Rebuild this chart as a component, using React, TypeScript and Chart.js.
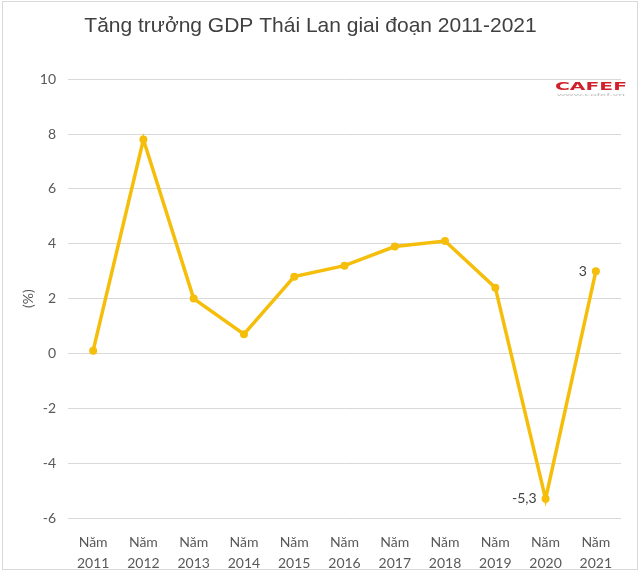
import React, { useEffect, useRef } from "react";
import { Chart, registerables } from "chart.js";

Chart.register(...registerables);

const categories: string[][] = [
  ["Năm", "2011"], ["Năm", "2012"], ["Năm", "2013"], ["Năm", "2014"], ["Năm", "2015"],
  ["Năm", "2016"], ["Năm", "2017"], ["Năm", "2018"], ["Năm", "2019"], ["Năm", "2020"], ["Năm", "2021"],
];
const gdpGrowth: number[] = [0.1, 7.8, 2.0, 0.7, 2.8, 3.2, 3.9, 4.1, 2.4, -5.3, 3.0];
const pointLabels: (string | null)[] = [null, null, null, null, null, null, null, null, null, "-5,3", "3"];
const titleText = "Tăng trưởng GDP Thái Lan giai đoạn 2011-2021";
const axisTitle = "(%)";

const LINE = "#F5BE0B";

const decorPlugin = {
  id: "decor",
  beforeDraw(chart: any) {
    const ctx = chart.ctx;
    ctx.save();
    ctx.strokeStyle = "#d9d9d9";
    ctx.lineWidth = 1;
    ctx.strokeRect(2.5, 1.5, 635, 568);
    ctx.restore();
  },
  afterDatasetsDraw(chart: any) {
    const ctx = chart.ctx;
    const meta = chart.getDatasetMeta(0);
    ctx.save();
    ctx.font = "14px Lato";
    ctx.fillStyle = "#404040";
    ctx.textAlign = "right";
    ctx.textBaseline = "middle";
    meta.data.forEach((pt: any, i: number) => {
      const lbl = pointLabels[i];
      if (lbl) ctx.fillText(lbl, pt.x - 9, pt.y);
    });
    // logo
    ctx.textAlign = "left";
    ctx.textBaseline = "alphabetic";
    ctx.font = "900 11px 'DejaVu Sans'";
    const w = ctx.measureText("CAFEF").width;
    ctx.save();
    ctx.translate(555, 90);
    ctx.scale(72 / w, 1);
    ctx.fillStyle = "#d0202a";
    ctx.fillText("CAFEF", 0, 0);
    ctx.restore();
    ctx.font = "4px 'Liberation Sans'";
    const w2 = ctx.measureText("www.cafef.vn").width;
    ctx.save();
    ctx.translate(557, 96);
    ctx.scale(68 / w2, 1);
    ctx.fillStyle = "#bbbbbb";
    ctx.fillText("www.cafef.vn", 0, 0);
    ctx.restore();
    ctx.restore();
  },
};

export default function App() {
  const ref = useRef<HTMLCanvasElement | null>(null);
  useEffect(() => {
    document.body.style.margin = "0";
    const chart = new Chart(ref.current as HTMLCanvasElement, {
      type: "line",
      data: {
        labels: categories,
        datasets: [
          {
            data: gdpGrowth,
            borderColor: LINE,
            backgroundColor: LINE,
            borderWidth: 3.5,
            pointRadius: 4,
            pointBackgroundColor: LINE,
            pointBorderWidth: 0,
            tension: 0,
          },
        ],
      },
      options: {
        responsive: false,
        animation: false,
        layout: { padding: { left: 0, right: 19, top: 0, bottom: 0 } },
        plugins: {
          legend: { display: false },
          tooltip: { enabled: false },
          title: {
            display: true,
            text: titleText,
            color: "#404040",
            font: { family: "'Liberation Sans'", size: 21, weight: "normal" },
            padding: { top: 14, bottom: 40 },
          },
        },
        scales: {
          x: {
            offset: true,
            grid: { display: false },
            border: { display: false },
            ticks: {
              color: "#595959",
              font: { family: "Lato", size: 14, lineHeight: 1.5 },
              padding: 6,
              maxRotation: 0,
              autoSkip: false,
            },
            afterFit(scale: any) {
              scale.height = 54;
            },
          },
          y: {
            min: -6,
            max: 10,
            ticks: {
              stepSize: 2,
              color: "#595959",
              font: { family: "Lato", size: 14 },
              padding: 12,
            },
            grid: { color: "#d9d9d9", drawTicks: false },
            border: { display: false },
            title: {
              display: true,
              text: axisTitle,
              color: "#595959",
              font: { family: "Lato", size: 14 },
              padding: { top: 20, bottom: 0 },
            },
            afterFit(scale: any) {
              scale.width = 68;
            },
          },
        },
      },
      plugins: [decorPlugin],
    });
    return () => chart.destroy();
  }, []);
  return (
    <div style={{ width: 640, height: 572 }}>
      <canvas ref={ref} width={640} height={572} />
    </div>
  );
}
